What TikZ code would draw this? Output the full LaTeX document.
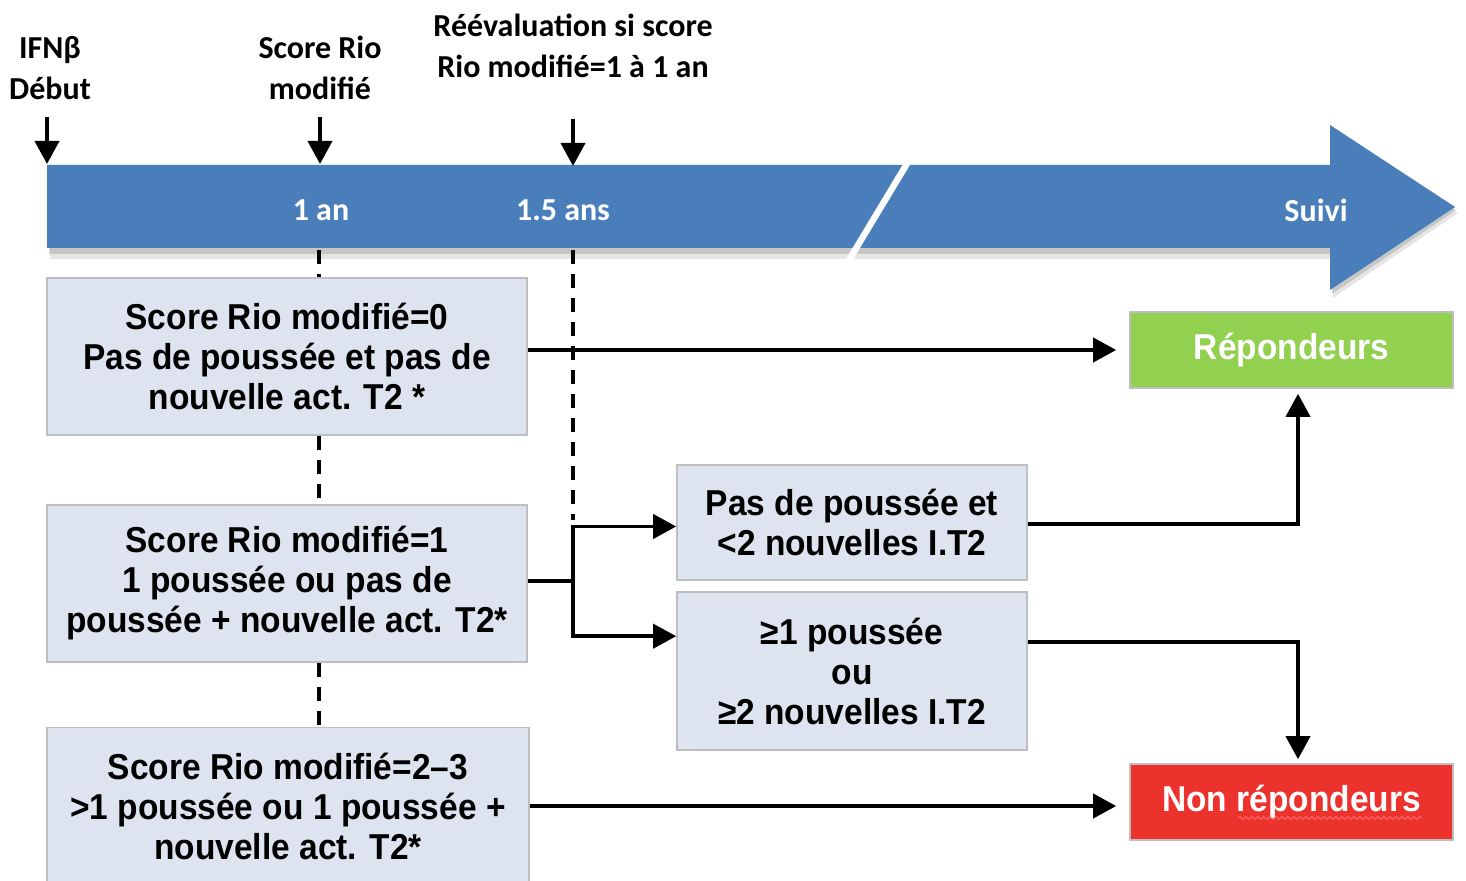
\documentclass[tikz,border=0pt]{standalone}
\usepackage{fontspec}
\setmainfont{Liberation Sans}
\newfontfamily\boxfont{Liberation Sans}[FakeStretch=0.93]
\newfontfamily\calfont{Carlito}
\usetikzlibrary{arrows.meta,decorations.pathmorphing}
\definecolor{boxfill}{RGB}{221,228,239}
\definecolor{boxline}{RGB}{190,190,190}
\definecolor{bandblue}{RGB}{74,126,187}
\definecolor{repgreen}{RGB}{146,208,80}
\definecolor{nonred}{RGB}{236,50,45}
\tikzset{
  infobox/.style={draw=boxline, line width=0.8pt, fill=boxfill, inner sep=0pt, align=center,
    minimum width=240pt, minimum height=78.5pt,
    font={\boxfont\bfseries\fontsize{18}{20}\selectfont}},
  resbox/.style={draw=boxline, line width=0.8pt, inner sep=0pt, align=center, text=white,
    minimum width=161.5pt, minimum height=38pt,
    font={\boxfont\bfseries\fontsize{18}{20}\selectfont}},
  toplabel/.style={align=center, inner sep=0pt, font={\calfont\bfseries\fontsize{16}{20.5}\selectfont}},
  bandlabel/.style={inner sep=0pt, text=white, font={\calfont\bfseries\fontsize{16}{20}\selectfont}},
  arr/.style={line width=1.9pt, -{Triangle[length=11.5pt,width=12pt]}},
  conn/.style={line width=1.9pt},
  dsh/.style={line width=1.6pt, dash pattern=on 7pt off 5pt}
}
\begin{document}
\begin{tikzpicture}[x=0.5pt,y=-0.5pt]
\useasboundingbox (0,0) rectangle (1466,881);
% timeline band shadow
\fill[black!40, opacity=0.25] (50,171) -- (1333,171) -- (1333,131) -- (1458,213) -- (1333,298) -- (1333,259) -- (50,259) -- cycle;
\fill[black!45, opacity=0.35] (49,168) -- (1332,168) -- (1332,128) -- (1456,210) -- (1332,294) -- (1332,254) -- (49,254) -- cycle;
% timeline band
\fill[bandblue] (47,165) -- (1330,165) -- (1330,125) -- (1455,207) -- (1330,290) -- (1330,248) -- (47,248) -- cycle;
\draw[white, line width=3.2pt] (908,162) -- (849,260);
% band labels
\node[bandlabel] (l1) at (321,210) {1 an};
\node[bandlabel] (l2) at (563,210) {1.5 ans};
\node[bandlabel] (l3) at (1316,210) {Suivi};
% top labels
\node[toplabel] (ifn) at (50,68) {IFNβ\\Début};
\node[toplabel] (rio) at (320,68) {Score Rio\\modifié};
\node[toplabel] (reev) at (573,46) {Réévaluation si score\\Rio modifié=1 à 1 an};
\coordinate (a0s) at (47,117); \coordinate (a0e) at (47,164);
\coordinate (a1s) at (320,117); \coordinate (a1e) at (320,164);
\coordinate (a2s) at (573,119); \coordinate (a2e) at (573,166);
\draw[arr] (a0s) -- (a0e);
\draw[arr] (a1s) -- (a1e);
\draw[arr] (a2s) -- (a2e);
% boxes
\node[infobox] (b1) at (287,356.5) {Score Rio modifié=0\\Pas de poussée et pas de\\nouvelle act. T2 *};
\node[infobox] (b2) at (287,583.5) {Score Rio modifié=1\\1 poussée ou pas de\\poussée + nouvelle act. T2*};
\node[infobox, minimum width=241pt] (b3) at (288,806) {Score Rio modifié=2–3\\>1 poussée ou 1 poussée +\\nouvelle act. T2*};
\node[infobox, minimum width=175pt, minimum height=57.5pt] (b4) at (852,522.5) {Pas de poussée et\\<2 nouvelles I.T2};
\node[infobox, minimum width=175pt, minimum height=79pt] (b5) at (852,671) {≥1 poussée\\ou\\≥2 nouvelles I.T2};
\node[resbox, fill=repgreen] (rep) at (1291.5,350) {Répondeurs};
\node[resbox, fill=nonred] (non) at (1291.5,802) {Non répondeurs};
\draw[red!60, line width=0.5pt, decorate, decoration={snake, amplitude=0.8pt, segment length=3pt}] (1238,818) -- (1422,818);
% dashed guides
\coordinate (d1) at (319,250);
\coordinate (d2) at (573,250);
\coordinate (d2e) at (573,520);
\draw[dsh] (d1) -- (d1 |- b1.north);
\draw[dsh] (b1.south -| d1) -- (b2.north -| d1);
\draw[dsh] (b2.south -| d1) -- (b3.north -| d1);
\draw[dsh] (d2) -- (d2e);
% connectors
\draw[arr] (b1.east |- rep.west) -- ([xshift=-6.5pt]rep.west);
\draw[arr] (b3.east) -- ([xshift=-6.5pt]non.west |- b3.east);
\coordinate (sp) at (573,581);
\draw[conn] (b2.east |- sp) -- (sp);
\draw[arr] (sp) |- ([yshift=-2pt]b4.west);
\draw[arr] (sp) |- ([yshift=-22.5pt]b5.north west);
\coordinate (rx) at (1298,0);
\draw[arr] ([yshift=-0.75pt]b4.east) -| ([yshift=-2.5pt]rep.south -| rx);
\draw[arr] ([yshift=-25.5pt]b5.north east) -| ([yshift=2pt]non.north -| rx);
\end{tikzpicture}
\end{document}
